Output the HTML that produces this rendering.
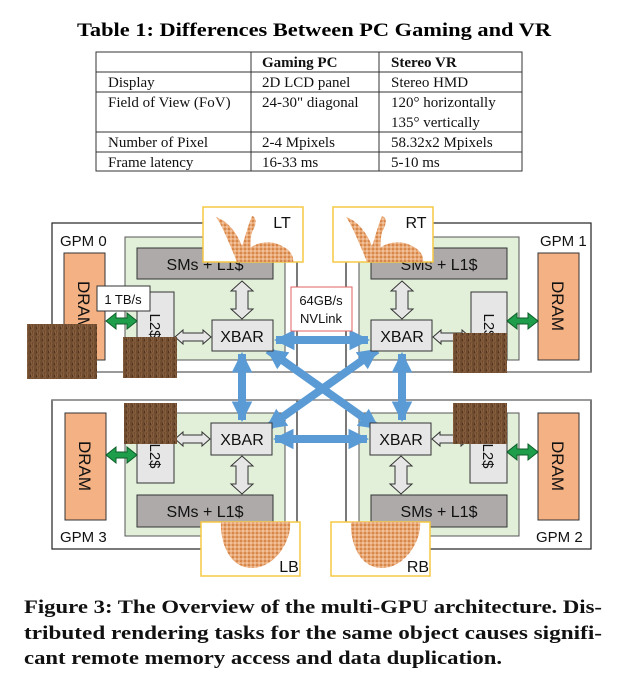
<!DOCTYPE html>
<html><head><meta charset="utf-8"><style>
html,body{margin:0;padding:0;background:#fff;}
svg{display:block;}
.s{font-family:"Liberation Serif",serif;}
.b{font-family:"Liberation Sans",sans-serif;}
</style></head><body>
<svg width="628" height="685" viewBox="0 0 628 685" xmlns="http://www.w3.org/2000/svg">
<defs>
<marker id="ah" viewBox="0 0 10 10" refX="9" refY="5" markerWidth="2.6" markerHeight="2.6" orient="auto-start-reverse">
<path d="M0,0 L10,5 L0,10 z" fill="#5b9bd5"/>
</marker>
<pattern id="tex" width="6" height="6" patternUnits="userSpaceOnUse">
<rect width="6" height="6" fill="#6e4a2e"/>
<path d="M1,0 L2,6 M4,0 L3,6" stroke="#8a6240" stroke-width="1"/>
<path d="M0,3 L1,5" stroke="#4a2f1c" stroke-width="1"/>
</pattern>
<pattern id="dots" width="4" height="4" patternUnits="userSpaceOnUse">
<rect width="4" height="4" fill="#e9a874"/>
<circle cx="1" cy="1" r="0.8" fill="#c0601e"/>
<circle cx="3" cy="3" r="0.6" fill="#fff"/>
</pattern>
</defs>

<text x="314" y="36" text-anchor="middle" class="s" font-size="19" font-weight="bold" textLength="474" lengthAdjust="spacingAndGlyphs">Table 1: Differences Between PC Gaming and VR</text>

<g stroke="#333" stroke-width="1" fill="none">
<rect x="96" y="52" width="426" height="119"/>
<line x1="96" y1="72" x2="522" y2="72"/>
<line x1="96" y1="92" x2="522" y2="92"/>
<line x1="96" y1="132" x2="522" y2="132"/>
<line x1="96" y1="152" x2="522" y2="152"/>
<line x1="251" y1="52" x2="251" y2="171"/>
<line x1="379" y1="52" x2="379" y2="171"/>
</g>
<g class="s" font-size="15" fill="#111">
<text x="262" y="67" font-weight="bold">Gaming PC</text>
<text x="391" y="67" font-weight="bold">Stereo VR</text>
<text x="108" y="87">Display</text>
<text x="262" y="87">2D LCD panel</text>
<text x="391" y="87">Stereo HMD</text>
<text x="108" y="107">Field of View (FoV)</text>
<text x="262" y="107">24-30" diagonal</text>
<text x="391" y="107">120° horizontally</text>
<text x="391" y="127">135° vertically</text>
<text x="108" y="147">Number of Pixel</text>
<text x="262" y="147">2-4 Mpixels</text>
<text x="391" y="147">58.32x2 Mpixels</text>
<text x="108" y="167">Frame latency</text>
<text x="262" y="167">16-33 ms</text>
<text x="391" y="167">5-10 ms</text>
</g>

<g fill="#fff" stroke="#222" stroke-width="1.2">
<rect x="52" y="223" width="245" height="149"/>
<rect x="346" y="223" width="245" height="149"/>
<rect x="52" y="400" width="245" height="149"/>
<rect x="346" y="400" width="245" height="149"/>
</g>
<g fill="#e2efd9" stroke="#555" stroke-width="1">
<rect x="125" y="237" width="160" height="123"/>
<rect x="359" y="237" width="160" height="123"/>
<rect x="125" y="413" width="160" height="123"/>
<rect x="359" y="413" width="160" height="123"/>
</g>
<g stroke="#888" stroke-width="1.5">
<line x1="52" y1="372" x2="591" y2="372"/>
<line x1="52" y1="400" x2="591" y2="400"/>
</g>
<g fill="#aeaaaa" stroke="#333" stroke-width="1">
<rect x="137" y="248" width="136" height="31"/>
<rect x="371" y="248" width="136" height="31"/>
<rect x="137" y="495" width="136" height="32"/>
<rect x="371" y="495" width="136" height="32"/>
</g>
<g class="b" font-size="16" fill="#111" text-anchor="middle">
<text x="205" y="270">SMs  +  L1$</text>
<text x="439" y="270">SMs  +  L1$</text>
<text x="205" y="517">SMs  +  L1$</text>
<text x="439" y="517">SMs  +  L1$</text>
</g>
<g fill="#f4b183" stroke="#333" stroke-width="1">
<rect x="64" y="253" width="41" height="107"/>
<rect x="538" y="253" width="41" height="107"/>
<rect x="65" y="413" width="41" height="107"/>
<rect x="538" y="413" width="41" height="107"/>
</g>
<g class="b" font-size="17" fill="#111" text-anchor="middle">
<text transform="translate(78,306) rotate(90)">DRAM</text>
<text transform="translate(552,306) rotate(90)">DRAM</text>
<text transform="translate(79,466) rotate(90)">DRAM</text>
<text transform="translate(552,466) rotate(90)">DRAM</text>
</g>
<g fill="#e7e6e6" stroke="#333" stroke-width="1">
<rect x="137" y="292" width="37" height="68"/>
<rect x="471" y="292" width="36" height="68"/>
<rect x="137" y="413" width="37" height="70"/>
<rect x="470" y="413" width="37" height="70"/>
</g>
<g class="b" font-size="15" fill="#111" text-anchor="middle">
<text transform="translate(150,326) rotate(90)">L2$</text>
<text transform="translate(484,326) rotate(90)">L2$</text>
<text transform="translate(150,456) rotate(90)">L2$</text>
<text transform="translate(483,456) rotate(90)">L2$</text>
</g>

<g fill="#e7e6e6" stroke="#333" stroke-width="1">
<polygon points="242,281 253,291 248,291 248,309 253,309 242,319 231,309 236,309 236,291 231,291"/>
<polygon points="402,281 413,291 408,291 408,309 413,309 402,319 391,309 396,309 396,291 391,291"/>
<polygon points="242,456 253,466 248,466 248,484 253,484 242,494 231,484 236,484 236,466 231,466"/>
<polygon points="401,456 412,466 407,466 407,484 412,484 401,494 390,484 395,484 395,466 390,466"/>
<polygon points="175,337 183,330 183,333 203,333 203,330 211,337 203,344 203,341 183,341 183,344"/>
<polygon points="433,337 441,330 441,333 462,333 462,330 470,337 462,344 462,341 441,341 441,344"/>
<polygon points="175,439 183,432 183,435 202,435 202,432 210,439 202,446 202,443 183,443 183,446"/>
<polygon points="432,439 440,432 440,435 461,435 461,432 469,439 461,446 461,443 440,443 440,446"/>
</g>
<g fill="#1e9e4a" stroke="#0e5e2a" stroke-width="1">
<polygon points="106,321 116,313 116,318 127,318 127,313 137,321 127,329 127,324 116,324 116,329"/>
<polygon points="507,321 517,313 517,318 528,318 528,313 538,321 528,329 528,324 517,324 517,329"/>
<polygon points="106,455 116,447 116,452 127,452 127,447 137,455 127,463 127,458 116,458 116,463"/>
<polygon points="507,452 517,444 517,449 528,449 528,444 538,452 528,460 528,455 517,455 517,460"/>
</g>

<g stroke="#5b9bd5" stroke-width="8" fill="none">
<line x1="276" y1="340" x2="368" y2="340" marker-start="url(#ah)" marker-end="url(#ah)"/>
<line x1="275" y1="439" x2="367" y2="439" marker-start="url(#ah)" marker-end="url(#ah)"/>
<line x1="242" y1="354" x2="242" y2="420" marker-start="url(#ah)" marker-end="url(#ah)"/>
<line x1="402" y1="354" x2="402" y2="420" marker-start="url(#ah)" marker-end="url(#ah)"/>
<line x1="268" y1="350" x2="378" y2="428" marker-start="url(#ah)" marker-end="url(#ah)"/>
<line x1="377" y1="350" x2="267" y2="428" marker-start="url(#ah)" marker-end="url(#ah)"/>
</g>
<g fill="#e7e6e6" stroke="#333" stroke-width="1">
<rect x="212" y="320" width="61" height="31"/>
<rect x="371" y="320" width="61" height="31"/>
<rect x="211" y="423" width="61" height="32"/>
<rect x="370" y="423" width="61" height="32"/>
</g>
<g class="b" font-size="16" fill="#111" text-anchor="middle">
<text x="242" y="342">XBAR</text>
<text x="402" y="342">XBAR</text>
<text x="242" y="445">XBAR</text>
<text x="401" y="445">XBAR</text>
</g>

<rect x="97" y="286" width="53" height="25" fill="#fff" stroke="#333" stroke-width="1"/>
<text x="123" y="304" text-anchor="middle" class="b" font-size="13" fill="#111">1 TB/s</text>
<rect x="291" y="287" width="61" height="44" fill="#fff" stroke="#e06060" stroke-width="1"/>
<text x="321" y="305" text-anchor="middle" class="b" font-size="13" fill="#111">64GB/s</text>
<text x="321" y="323" text-anchor="middle" class="b" font-size="13" fill="#111">NVLink</text>

<g fill="url(#tex)">
<rect x="27" y="324" width="70" height="55"/>
<rect x="123" y="337" width="54" height="41"/>
<rect x="453" y="333" width="54" height="40"/>
<rect x="124" y="403" width="53" height="41"/>
<rect x="453" y="403" width="54" height="41"/>
</g>

<g fill="#fff" stroke="#f5c842" stroke-width="1.5">
<rect x="203" y="207" width="100" height="55"/>
<rect x="333" y="207" width="100" height="55"/>
<rect x="201" y="522" width="99" height="54"/>
<rect x="331" y="522" width="99" height="54"/>
</g>
<g fill="url(#dots)">
<path d="M216,217 C222,225 230,245 237,262 L252,262 C250,250 250,240 252,232 C256,225 258,218 252,216 C247,228 245,238 242,246 C238,236 230,222 216,217 z"/>
<path d="M240,262 C245,245 265,238 280,245 C292,250 294,258 293,262 z"/>
<path d="M346,217 C352,225 360,245 367,262 L382,262 C380,250 380,240 382,232 C386,225 388,218 382,216 C377,228 375,238 372,246 C368,236 360,222 346,217 z"/>
<path d="M370,262 C375,245 395,238 410,245 C422,250 424,258 423,262 z"/>
<path d="M221,522 C220,540 228,568 252,568 C275,568 292,540 290,522 z"/>
<path d="M351,522 C350,540 358,568 382,568 C405,568 422,540 420,522 z"/>
</g>
<g class="b" font-size="16" fill="#111">
<text x="282" y="228" text-anchor="middle">LT</text>
<text x="416" y="228" text-anchor="middle">RT</text>
<text x="289" y="572" text-anchor="middle">LB</text>
<text x="418" y="572" text-anchor="middle">RB</text>
</g>
<g class="b" font-size="15" fill="#111">
<text x="60" y="246">GPM 0</text>
<text x="540" y="246">GPM 1</text>
<text x="60" y="542">GPM 3</text>
<text x="536" y="542">GPM 2</text>
</g>

<g class="s" font-size="19" font-weight="bold" fill="#111">
<text x="24" y="613" textLength="578" lengthAdjust="spacingAndGlyphs">Figure 3: The Overview of the multi-GPU architecture. Dis-</text>
<text x="24" y="639" textLength="578" lengthAdjust="spacingAndGlyphs">tributed rendering tasks for the same object causes signifi-</text>
<text x="24" y="664" textLength="478" lengthAdjust="spacingAndGlyphs">cant remote memory access and data duplication.</text>
</g>
</svg>
</body></html>
